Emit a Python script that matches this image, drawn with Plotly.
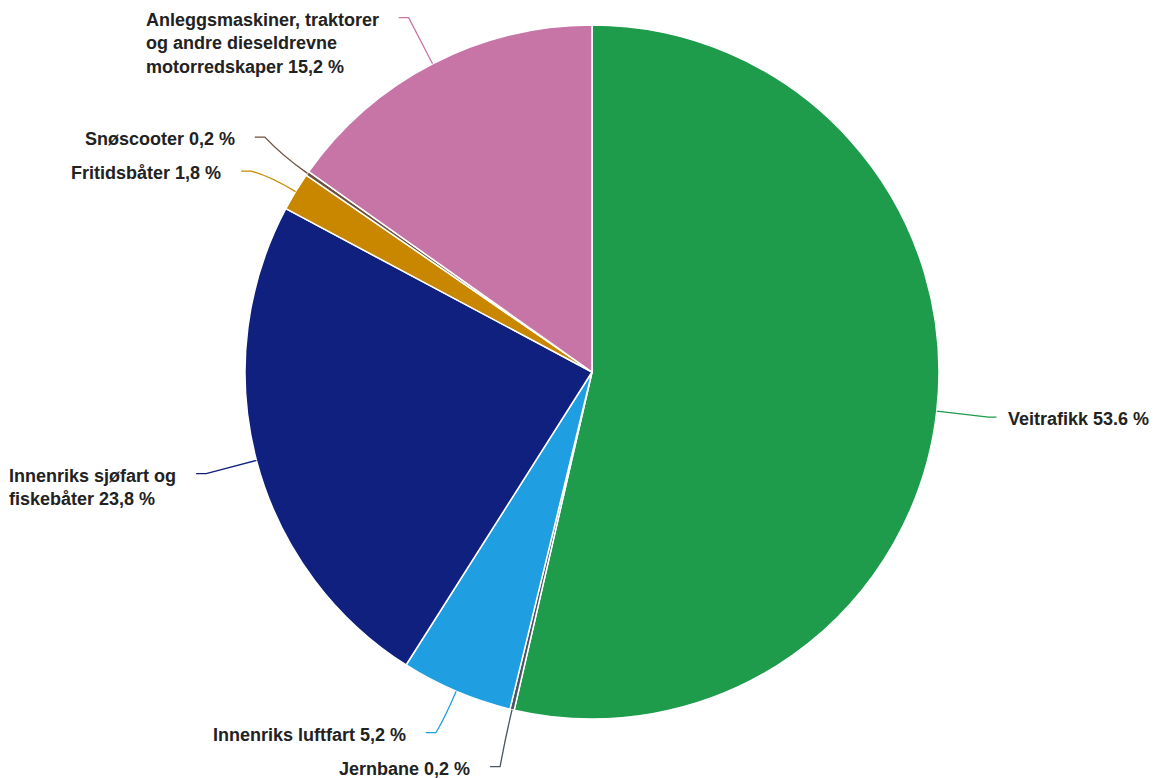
import math
import plotly.graph_objects as go

# ---- data ----
categories = ["Veitrafikk", "Jernbane", "Innenriks luftfart",
              "Innenriks sjøfart og fiskebåter", "Fritidsbåter", "Snøscooter",
              "Anleggsmaskiner, traktorer og andre dieseldrevne motorredskaper"]
values = [53.6, 0.2, 5.2, 23.8, 1.8, 0.2, 15.2]
label_texts = ["Veitrafikk 53.6 %", "Jernbane 0,2 %", "Innenriks luftfart 5,2 %",
               "Innenriks sjøfart og<br>fiskebåter 23,8 %", "Fritidsbåter 1,8 %",
               "Snøscooter 0,2 %",
               "Anleggsmaskiner, traktorer<br>og andre dieseldrevne<br>motorredskaper 15,2 %"]
colors = ["#1e9b4b", "#4a5560", "#1f9fe2", "#10207f", "#c98700", "#6b4f3f", "#c775a6"]

# ---- layout constants (screen pixels; page body has an 8px margin) ----
W, H = 1158, 778
OFF = 8
CX, CY, R = 592, 372, 347
LABEL_R = R + 52
MIN_GAP = 34


def px(x, y):
    return (x - OFF) / W, 1 - (y - OFF) / H


dom_x = [px(CX - R, 0)[0], px(CX + R, 0)[0]]
dom_y = [px(0, CY + R)[1], px(0, CY - R)[1]]

fig = go.Figure(go.Pie(
    labels=categories, values=values, sort=False, direction="clockwise",
    rotation=0, textinfo="none", hoverinfo="label+percent",
    marker=dict(colors=colors, line=dict(color="white", width=1.5)),
    domain=dict(x=dom_x, y=dom_y), showlegend=False,
))

total = sum(values)
cum = 0.0
items = []
for cat, v, txt, col in zip(categories, values, label_texts, colors):
    mid = (cum + v / 2) / total * 2 * math.pi
    cum += v
    s, c = math.sin(mid), -math.cos(mid)
    items.append(dict(s=s, c=c, txt=txt, col=col, right=s >= 0,
                      ly=CY + LABEL_R * c, lx=CX + LABEL_R * s))

# simple label collision avoidance per side
for side in (True, False):
    grp = sorted([it for it in items if it["right"] == side], key=lambda d: d["ly"])
    for a, b in zip(grp, grp[1:]):
        gap = b["ly"] - a["ly"]
        if gap < MIN_GAP:
            d = (MIN_GAP - gap) / 2
            a["ly"] -= d
            b["ly"] += d

shapes, annotations = [], []
for it in items:
    s, c, right = it["s"], it["c"], it["right"]
    x0, y0 = CX + R * s, CY + R * c
    qx, qy = CX + (R + 30) * s, CY + (R + 30) * c
    x1, y1 = it["lx"], it["ly"]
    x2 = x1 + (8 if right else -10)
    a0, b0 = px(x0, y0)
    aq, bq = px(qx, qy)
    a1, b1 = px(x1, y1)
    a2, b2 = px(x2, y1)
    shapes.append(dict(type="path", xref="paper", yref="paper",
                       path=f"M {a0},{b0} Q {aq},{bq} {a1},{b1} L {a2},{b2}",
                       line=dict(color=it["col"], width=1.3)))
    tx, ty = px(x2 + (10 if right else -18), y1 - 10)
    annotations.append(dict(x=tx, y=ty, xref="paper", yref="paper", text=it["txt"],
                            showarrow=False, xanchor="left" if right else "right",
                            yanchor="top", align="left",
                            font=dict(family="Liberation Sans, Arial, sans-serif",
                                      size=18, color="#222222", weight="bold")))

fig.update_layout(width=W, height=H, margin=dict(l=0, r=0, t=0, b=0),
                  paper_bgcolor="white", plot_bgcolor="white",
                  shapes=shapes, annotations=annotations)
fig.write_html("out.html")
